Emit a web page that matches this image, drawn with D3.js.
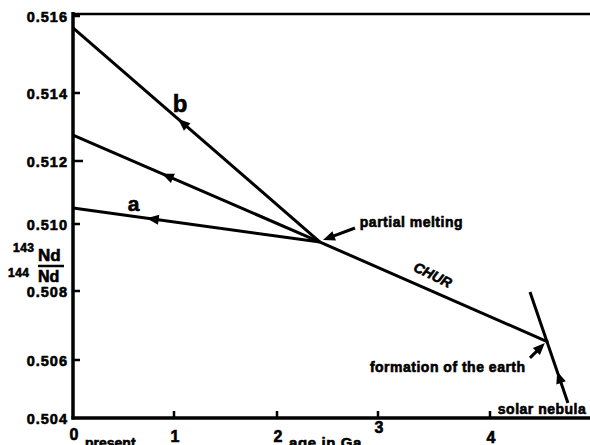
<!DOCTYPE html>
<html>
<head>
<meta charset="utf-8">
<script src="https://cdn.jsdelivr.net/npm/d3@7"></script>
<style>
  body { margin: 0; background: #fff; }
  svg text { font-family: "Liberation Sans", Arial, sans-serif; font-weight: bold; fill: #000;
             stroke: #000; stroke-width: 0.6px; }
</style>
</head>
<body>
<svg id="chart" width="590" height="445"></svg>
<script>
// Nd isotope evolution: CHUR and two melting paths

const yTicks = [0.504, 0.506, 0.508, 0.510, 0.512, 0.514, 0.516];
const xTicks = [0, 1, 2, 3, 4];

// [age Ga, 143Nd/144Nd]
const churLine   = [[4.52, 0.50652], [2.426, 0.50946]];
const pathA      = [[2.426, 0.50946], [0, 0.51051]];
const pathMid    = [[2.426, 0.50946], [0, 0.51276]];
const pathB      = [[2.426, 0.50946], [0, 0.51569]];
const nebulaLine = [[4.696, 0.50452], [4.357, 0.50797]];

// arrowheads sit on a path at a given age, pointing toward the path's end
const arrowsOnLines = [
  { path: pathB, at: 1.04 },
  { path: pathMid, at: 0.88 },
  { path: pathA, at: 0.73 },
  { path: nebulaLine, at: 4.60 }
];

const labels = [
  { text: "b", x: 1.06, y: 0.51344, size: 24, anchor: "middle" },
  { text: "a", x: 0.60, y: 0.51041, size: 21, anchor: "middle" },
  { text: "partial melting", x: 2.82, y: 0.50991, size: 14, anchor: "start" },
  { text: "formation of the earth", x: 2.92, y: 0.50559, size: 14, anchor: "start" },
  { text: "solar nebula", x: 4.07, y: 0.50414, size: 14, anchor: "start" }
];

// annotation pointers: from, to
const pointers = [
  [[2.772, 0.50988], [2.455, 0.50952]],
  [[4.357, 0.50606], [4.49, 0.50649]]
];

const svg = d3.select("#chart");

// scanned figure: tick spacing is not quite even, so map each tick
const xScale = d3.scaleLinear().domain(xTicks).range([73, 174, 277, 378, 490]);
const yScale = d3.scaleLinear().domain(yTicks).range([418, 360, 291, 224, 161, 93, 16]);
const x0 = xScale(0), yBottom = yScale(0.504);

const g = svg.append("g");

// frame: left axis, bottom axis, top line
g.append("line").attr("x1", x0).attr("x2", x0).attr("y1", 12).attr("y2", yBottom + 1.5)
  .attr("stroke", "#000").attr("stroke-width", 3.5);
g.append("line").attr("x1", x0 - 1.5).attr("x2", 590).attr("y1", yBottom).attr("y2", yBottom)
  .attr("stroke", "#000").attr("stroke-width", 3.5);
g.append("line").attr("x1", x0).attr("x2", 590).attr("y1", 14).attr("y2", 14)
  .attr("stroke", "#000").attr("stroke-width", 2.5);

// y ticks
g.selectAll(".ytick").data(yTicks.slice(1)).join("line")
  .attr("x1", x0).attr("x2", d => d === 0.512 ? x0 + 10 : x0 + 7)
  .attr("y1", d => yScale(d)).attr("y2", d => yScale(d))
  .attr("stroke", "#000").attr("stroke-width", 2.5);
g.selectAll(".ylab").data(yTicks).join("text")
  .attr("x", 68).attr("y", d => yScale(d) + 5.5)
  .attr("text-anchor", "end").style("font-size", "14.5px").style("letter-spacing", "1px")
  .text(d => d.toFixed(3));

// x ticks
g.selectAll(".xtick").data(xTicks.slice(1)).join("line")
  .attr("x1", d => xScale(d)).attr("x2", d => xScale(d))
  .attr("y1", yBottom).attr("y2", yBottom - 7)
  .attr("stroke", "#000").attr("stroke-width", 2.5);
const xLabY = [440, 442, 442, 433, 443];
g.selectAll(".xlab").data(xTicks).join("text")
  .attr("x", d => xScale(d) + 1).attr("y", (d, i) => xLabY[i])
  .attr("text-anchor", "middle").style("font-size", "16px")
  .text(d => d);
g.append("text").attr("x", 85).attr("y", 448).style("font-size", "14px").text("present");
g.append("text").attr("x", 289).attr("y", 448).style("font-size", "15px")
  .style("letter-spacing", "0.6px").text("age in Ga");

// y axis title as a fraction
const yt = g.append("g");
yt.append("text").attr("x", 13).attr("y", 252).style("font-size", "12px").style("letter-spacing", "0.5px").text("143");
yt.append("text").attr("x", 38).attr("y", 261).style("font-size", "17px").text("Nd");
yt.append("line").attr("x1", 38).attr("x2", 64).attr("y1", 266).attr("y2", 266)
  .attr("stroke", "#000").attr("stroke-width", 2.5);
yt.append("text").attr("x", 8).attr("y", 277).style("font-size", "12px").style("letter-spacing", "0.5px").text("144");
yt.append("text").attr("x", 38).attr("y", 282).style("font-size", "16px").text("Nd");

// evolution lines
const line = d3.line().x(d => xScale(d[0])).y(d => yScale(d[1]));
[churLine, pathA, pathMid, pathB, nebulaLine].forEach(pts => {
  g.append("path").attr("d", line(pts))
    .attr("fill", "none").attr("stroke", "#000").attr("stroke-width", 3);
});

// arrowheads
function arrowHead(px, py, angle, len, wid) {
  const bx = px - Math.cos(angle) * len, by = py - Math.sin(angle) * len;
  const nx = -Math.sin(angle) * wid / 2, ny = Math.cos(angle) * wid / 2;
  return `M${px},${py}L${bx + nx},${by + ny}L${bx - nx},${by - ny}Z`;
}
arrowsOnLines.forEach(d => {
  const [p0, p1] = d.path.map(p => [xScale(p[0]), yScale(p[1])]);
  const tx = xScale(d.at);
  const ty = p0[1] + (p1[1] - p0[1]) * (tx - p0[0]) / (p1[0] - p0[0]);
  const ang = Math.atan2(p1[1] - p0[1], p1[0] - p0[0]);
  g.append("path").attr("d", arrowHead(tx, ty, ang, 12, 10)).attr("fill", "#000");
});

pointers.forEach(p => {
  const fx = xScale(p[0][0]), fy = yScale(p[0][1]);
  const tx = xScale(p[1][0]), ty = yScale(p[1][1]);
  const ang = Math.atan2(ty - fy, tx - fx);
  g.append("line").attr("x1", fx).attr("y1", fy)
    .attr("x2", tx - Math.cos(ang) * 6).attr("y2", ty - Math.sin(ang) * 6)
    .attr("stroke", "#000").attr("stroke-width", 3);
  g.append("path").attr("d", arrowHead(tx, ty, ang, 12, 10)).attr("fill", "#000");
});

// text labels
g.selectAll(".lab").data(labels).join("text")
  .attr("x", d => xScale(d.x)).attr("y", d => yScale(d.y))
  .style("font-size", d => d.size + "px")
  .style("letter-spacing", d => d.size < 15 ? "0.5px" : "0px")
  .attr("text-anchor", d => d.anchor)
  .text(d => d.text);

// CHUR label, rotated along the line
const cx = xScale(3.47), cy = yScale(0.50835);
g.append("text").attr("transform", `translate(${cx},${cy}) rotate(26)`)
  .attr("text-anchor", "middle").style("font-size", "14px").style("font-style", "italic")
  .text("CHUR");
</script>
</body>
</html>
